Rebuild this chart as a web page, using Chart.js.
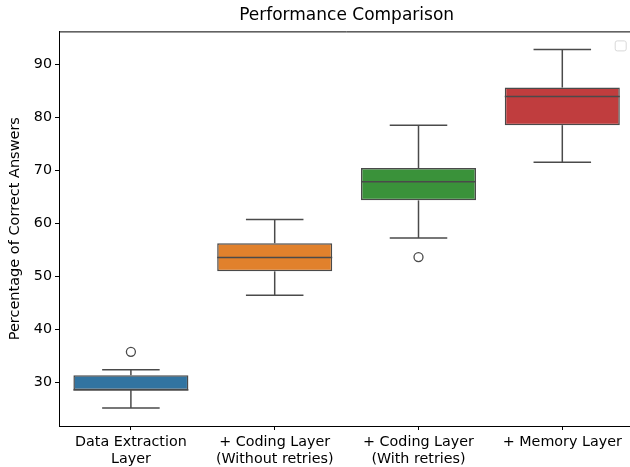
<!DOCTYPE html>
<html>
<head>
<meta charset="utf-8">
<title>Performance Comparison</title>
<script src="https://cdn.jsdelivr.net/npm/chart.js@4/dist/chart.umd.min.js"></script>
<style>
  html, body { margin: 0; padding: 0; background: #fff; overflow: hidden; }
  #wrap { width: 630px; height: 467px; overflow: hidden; }
  #chart { display: block; }
</style>
</head>
<body>
<div id="wrap"><canvas id="chart" width="640" height="467"></canvas></div>
<script>
const categories = [
  ['Data Extraction', 'Layer'],
  ['+ Coding Layer', '(Without retries)'],
  ['+ Coding Layer', '(With retries)'],
  '+ Memory Layer'
];
const whiskerLow  = [25.1, 46.4, 57.2, 71.5];
const q1          = [28.5, 50.9, 64.3, 78.5];
const median      = [28.5, 53.5, 67.8, 83.9];
const q3          = [31.3, 56.2, 70.4, 85.6];
const whiskerHigh = [32.3, 60.7, 78.5, 92.8];
const outliers    = [35.7, null, 53.6, null];
const yTicks = [30, 40, 50, 60, 70, 80, 90];

const boxColors = ['#3274a1', '#e1812c', '#3a923a', '#c03d3e'];
const lineColor = '#4a4a4a';
const font = 'DejaVu Sans';

// whiskers, caps, medians, frame and the empty legend box
const boxPlugin = {
  id: 'boxWhiskers',
  afterDatasetsDraw(chart) {
    const { ctx, scales: { x, y }, chartArea } = chart;
    const meta = chart.getDatasetMeta(0);
    const seg = (x1, y1, x2, y2) => {
      ctx.beginPath(); ctx.moveTo(x1, y1); ctx.lineTo(x2, y2); ctx.stroke();
    };
    ctx.save();
    ctx.strokeStyle = lineColor;
    ctx.lineWidth = 1.5;
    meta.data.forEach((bar, i) => {
      const cx = bar.x;
      const half = bar.width / 2;
      const cap = half / 2;
      const yLo = y.getPixelForValue(whiskerLow[i]);
      const yHi = y.getPixelForValue(whiskerHigh[i]);
      seg(cx, y.getPixelForValue(q1[i]), cx, yLo);
      seg(cx, y.getPixelForValue(q3[i]), cx, yHi);
      seg(cx - cap, yLo, cx + cap, yLo);
      seg(cx - cap, yHi, cx + cap, yHi);
      const ym = y.getPixelForValue(median[i]);
      seg(cx - half, ym, cx + half, ym);
    });
    // top spine (right spine falls outside the picture)
    ctx.strokeStyle = '#000';
    ctx.lineWidth = 1;
    seg(chartArea.left, chartArea.top + 0.5, chartArea.right, chartArea.top + 0.5);
    // matplotlib empty legend frame
    ctx.strokeStyle = '#d8d8d8';
    ctx.fillStyle = 'rgba(255,255,255,0.8)';
    ctx.beginPath();
    ctx.roundRect(chartArea.right - 19, chartArea.top + 9.5, 11, 10, 2);
    ctx.fill();
    ctx.stroke();
    ctx.restore();
  }
};

new Chart(document.getElementById('chart'), {
  data: {
    labels: categories,
    datasets: [
      {
        type: 'bar',
        data: q1.map((v, i) => [v, q3[i]]),
        backgroundColor: boxColors,
        borderColor: lineColor,
        borderWidth: 1.5,
        borderSkipped: false,
        barPercentage: 0.8,
        categoryPercentage: 1.0,
        order: 2
      },
      {
        type: 'line',
        data: outliers,
        showLine: false,
        pointStyle: 'circle',
        pointRadius: 4.5,
        pointBackgroundColor: '#fff',
        pointBorderColor: lineColor,
        pointBorderWidth: 1.3,
        order: 1
      }
    ]
  },
  options: {
    responsive: false,
    animation: false,
    layout: { padding: { left: 0, right: 0, top: 0, bottom: 0 } },
    plugins: {
      legend: { display: false },
      tooltip: { enabled: false },
      title: {
        display: true,
        text: 'Performance Comparison',
        fullSize: false,
        color: '#000',
        font: { family: font, size: 17, weight: 'normal' },
        padding: { top: 5, bottom: 6 }
      }
    },
    scales: {
      x: {
        type: 'category',
        offset: true,
        border: { display: true, color: '#000', width: 1 },
        grid: { display: true, offset: false, drawOnChartArea: false, drawTicks: true, tickLength: 4, color: '#000' },
        ticks: { color: '#000', font: { family: font, size: 14.3 }, padding: 4, maxRotation: 0, autoSkip: false },
        afterFit: (scale) => { scale.height = 41; }
      },
      y: {
        min: 21.7,
        max: 96.2,
        afterBuildTicks: (scale) => { scale.ticks = yTicks.map(v => ({ value: v })); },
        border: { display: true, color: '#000', width: 1 },
        grid: { display: true, drawOnChartArea: false, drawTicks: true, tickLength: 4, color: '#000' },
        ticks: { color: '#000', font: { family: font, size: 14.3 }, padding: 3 },
        title: {
          display: true,
          text: 'Percentage of Correct Answers',
          color: '#000',
          font: { family: font, size: 14.5 },
          padding: { top: 7, bottom: 0 }
        },
        afterFit: (scale) => { scale.width = 59; }
      }
    }
  },
  plugins: [boxPlugin]
});
</script>
</body>
</html>
